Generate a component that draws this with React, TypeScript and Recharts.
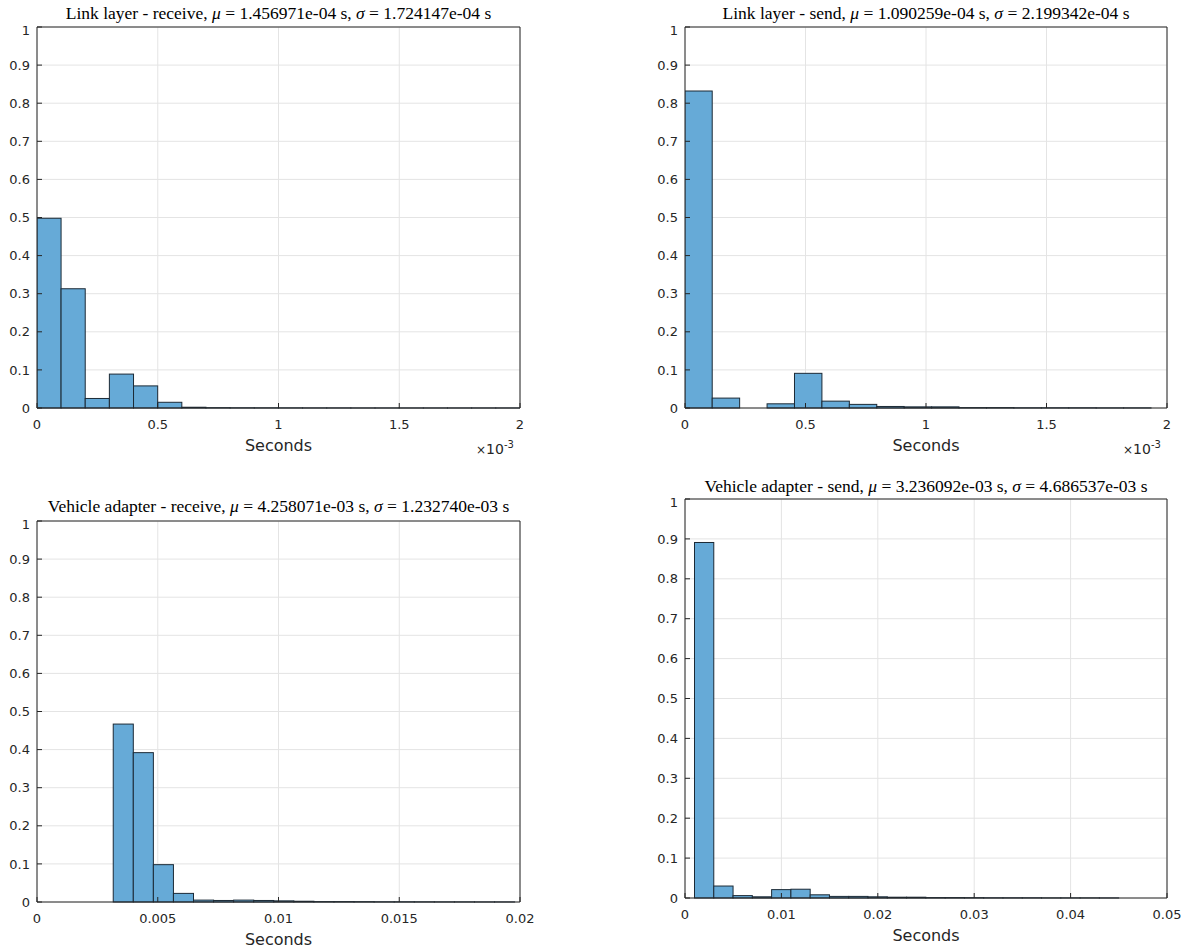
import React from 'react';
import { BarChart, Bar, XAxis, YAxis, CartesianGrid } from 'recharts';

// probability ticks shared by all four panels
const yTicks = [0, 0.1, 0.2, 0.3, 0.4, 0.5, 0.6, 0.7, 0.8, 0.9, 1];
const yTickLabels = ['0', '0.1', '0.2', '0.3', '0.4', '0.5', '0.6', '0.7', '0.8', '0.9', '1'];

// Link layer - receive
const linkRecvStart = 0;
const linkRecvBin = 0.0001;
const linkRecvProb = [0.498, 0.313, 0.025, 0.089, 0.058, 0.015, 0.002, 0.0008, 0.0005, 0.0004, 0.0003, 0.0002, 0.0002, 0.0001, 0.0001, 0.0001, 0.0001, 0.0001, 0.0001, 0.0001];
const linkRecvTicks = [0, 0.0005, 0.001, 0.0015, 0.002];
const linkRecvTickLabels = ['0', '0.5', '1', '1.5', '2'];

// Link layer - send
const linkSendStart = 0;
const linkSendBin = 0.0001138;
const linkSendProb = [0.832, 0.026, 0, 0.011, 0.091, 0.018, 0.0095, 0.004, 0.003, 0.003, 0.001, 0.001, 0.0005, 0.0005, 0.0005, 0.0003, 0.0003];
const linkSendTicks = [0, 0.0005, 0.001, 0.0015, 0.002];
const linkSendTickLabels = ['0', '0.5', '1', '1.5', '2'];

// Vehicle adapter - receive
const vaRecvStart = 0.003158;
const vaRecvBin = 0.000831;
const vaRecvProb = [0.467, 0.392, 0.098, 0.0226, 0.005, 0.004, 0.005, 0.004, 0.003, 0.002, 0.001, 0.001, 0.0008, 0.0005, 0.0005, 0.0004, 0.0003, 0.0003, 0.0002, 0.0002];
const vaRecvTicks = [0, 0.005, 0.01, 0.015, 0.02];
const vaRecvTickLabels = ['0', '0.005', '0.01', '0.015', '0.02'];

// Vehicle adapter - send
const vaSendStart = 0.001;
const vaSendBin = 0.002;
const vaSendProb = [0.891, 0.03, 0.006, 0.003, 0.021, 0.022, 0.008, 0.004, 0.004, 0.003, 0.002, 0.002, 0.001, 0.001, 0.0008, 0.0005, 0.0005, 0.0005, 0.0003, 0.0003, 0.0003, 0.0002];
const vaSendTicks = [0, 0.01, 0.02, 0.03, 0.04, 0.05];
const vaSendTickLabels = ['0', '0.01', '0.02', '0.03', '0.04', '0.05'];

const AXIS = '#262626';
const GRID = '#e4e4e4';
const FILL = '#66aad7';
const EDGE = '#1c2a36';
const SANS = '"DejaVu Sans", sans-serif';
const SERIF = '"Liberation Serif", "Times New Roman", serif';

type PanelProps = {
  start: number;
  bin: number;
  prob: number[];
  ticks: number[];
  tickLabels: string[];
  name: string;
  mu: string;
  sigma: string;
  plotLeft: number;
  plotRight: number;
  plotTop: number;
  plotBottom: number;
  titleY: number;
  multiplier?: boolean;
};

function Panel(p: PanelProps) {
  const data = p.prob.map((v, i) => ({ x: p.start + (i + 0.5) * p.bin, p: v }));
  const max = p.ticks[p.ticks.length - 1];
  const boxLeft = p.plotLeft - 60;
  const boxTop = p.plotTop - 5;
  const width = p.plotRight - boxLeft + 20;
  const height = p.plotBottom - boxTop + 60;
  const plotW = p.plotRight - p.plotLeft;
  const binPx = (plotW * p.bin) / max;
  const xFmt = (v: number) => p.tickLabels[p.ticks.indexOf(v)] ?? '';
  const yFmt = (v: number) => yTickLabels[yTicks.indexOf(v)] ?? '';
  const tickStyle = { fontSize: 13, fill: AXIS, fontFamily: SANS };

  // histogram bar: keep the library's centre and height, span the full bin
  const HistBar = (s: any) => {
    const cx = s.x + s.width / 2;
    return (
      <rect
        x={cx - binPx / 2}
        y={s.y}
        width={binPx}
        height={Math.max(s.height, 0)}
        fill={FILL}
        stroke={EDGE}
        strokeWidth={1}
      />
    );
  };

  return (
    <>
      <div
        style={{
          position: 'absolute',
          left: p.plotLeft - 60,
          width: plotW + 120,
          top: p.titleY - 11,
          textAlign: 'center',
          fontFamily: SERIF,
          fontSize: 17.5,
          color: '#000',
          whiteSpace: 'nowrap',
          lineHeight: '22px',
        }}
      >
        {p.name}, <i>μ</i> = {p.mu} s, <i>σ</i> = {p.sigma} s
      </div>
      <div style={{ position: 'absolute', left: boxLeft, top: boxTop }}>
        <BarChart
          width={width}
          height={height}
          data={data}
          margin={{ top: 5, right: 20, left: 0, bottom: 0 }}
          barCategoryGap={0}
          barGap={0}
        >
          <CartesianGrid stroke={GRID} strokeWidth={1} horizontalValues={yTicks} verticalValues={p.ticks} />
          <XAxis
            dataKey="x"
            type="number"
            domain={[0, max]}
            ticks={p.ticks}
            allowDataOverflow
            tickFormatter={xFmt}
            tick={tickStyle}
            tickSize={-5}
            tickMargin={17}
            height={60}
            stroke={AXIS}
            label={{ value: 'Seconds', position: 'insideBottom', offset: 17, style: { fontSize: 16, fill: AXIS, fontFamily: SANS } }}
          />
          <XAxis
            xAxisId="top"
            orientation="top"
            type="number"
            domain={[0, max]}
            ticks={p.ticks}
            mirror
            tick={false}
            tickSize={5}
            stroke={AXIS}
          />
          <YAxis
            type="number"
            domain={[0, 1]}
            ticks={yTicks}
            tickFormatter={yFmt}
            tick={tickStyle}
            tickSize={-5}
            tickMargin={12}
            width={60}
            stroke={AXIS}
          />
          <YAxis
            yAxisId="right"
            orientation="right"
            type="number"
            domain={[0, 1]}
            ticks={yTicks}
            mirror
            tick={false}
            tickSize={5}
            stroke={AXIS}
          />
          <Bar dataKey="p" shape={HistBar} isAnimationActive={false} />
        </BarChart>
      </div>
      {p.multiplier && (
        <div
          style={{
            position: 'absolute',
            left: p.plotRight - 44,
            top: p.plotBottom + 31,
            fontFamily: SANS,
            fontSize: 14,
            color: AXIS,
            whiteSpace: 'nowrap',
          }}
        >
          <span style={{ fontSize: 12 }}>×</span>10<sup style={{ fontSize: 10 }}>-3</sup>
        </div>
      )}
    </>
  );
}

export default function App() {
  return (
    <div style={{ position: 'absolute', left: 0, top: 0, width: 1193, height: 952, background: '#fff' }}>
      <Panel
        start={linkRecvStart} bin={linkRecvBin} prob={linkRecvProb}
        ticks={linkRecvTicks} tickLabels={linkRecvTickLabels}
        name="Link layer - receive" mu="1.456971e-04" sigma="1.724147e-04"
        plotLeft={37} plotRight={520} plotTop={27} plotBottom={408} titleY={13} multiplier
      />
      <Panel
        start={linkSendStart} bin={linkSendBin} prob={linkSendProb}
        ticks={linkSendTicks} tickLabels={linkSendTickLabels}
        name="Link layer - send" mu="1.090259e-04" sigma="2.199342e-04"
        plotLeft={685} plotRight={1167} plotTop={27} plotBottom={408} titleY={13} multiplier
      />
      <Panel
        start={vaRecvStart} bin={vaRecvBin} prob={vaRecvProb}
        ticks={vaRecvTicks} tickLabels={vaRecvTickLabels}
        name="Vehicle adapter - receive" mu="4.258071e-03" sigma="1.232740e-03"
        plotLeft={37} plotRight={520} plotTop={521} plotBottom={902} titleY={506}
      />
      <Panel
        start={vaSendStart} bin={vaSendBin} prob={vaSendProb}
        ticks={vaSendTicks} tickLabels={vaSendTickLabels}
        name="Vehicle adapter - send" mu="3.236092e-03" sigma="4.686537e-03"
        plotLeft={685} plotRight={1167} plotTop={499} plotBottom={898} titleY={486}
      />
    </div>
  );
}
